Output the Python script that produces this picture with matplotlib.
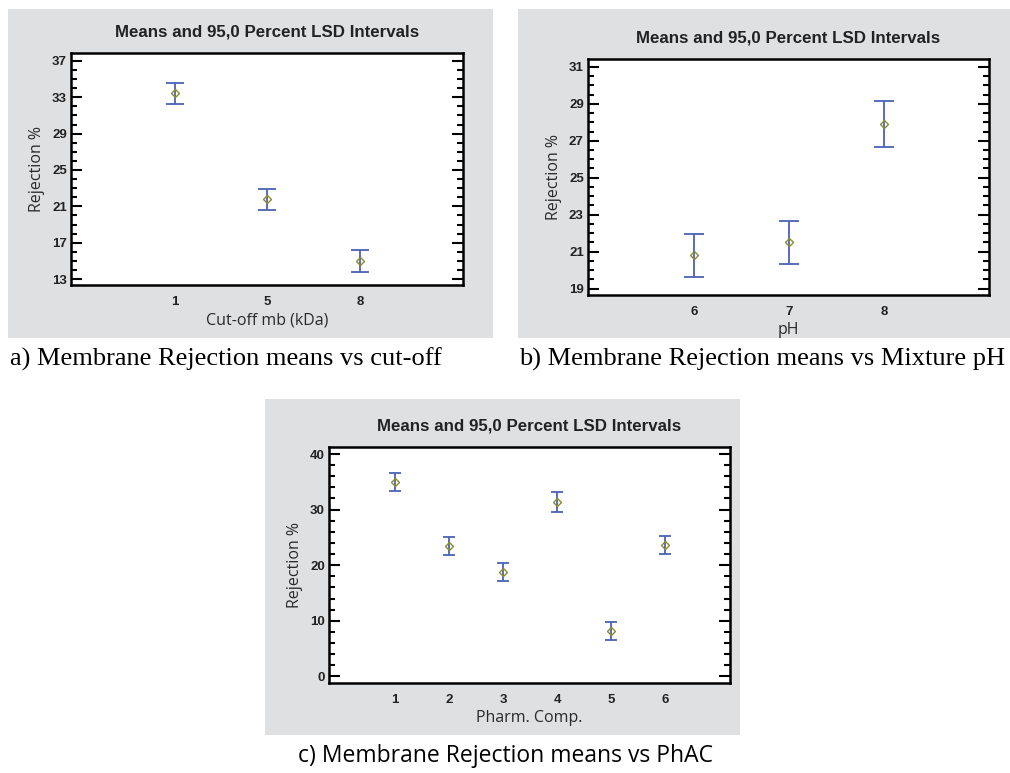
import matplotlib.pyplot as plt
from matplotlib.patches import Rectangle
from matplotlib.ticker import MultipleLocator

# a) cut-off
cutoff_labels = ['1', '5', '8']
cutoff_means = [33.45, 21.77, 14.95]
cutoff_half = [1.15, 1.17, 1.2]
cutoff_yticks = [13, 17, 21, 25, 29, 33, 37]

# b) pH
ph_labels = ['6', '7', '8']
ph_means = [20.81, 21.51, 27.9]
ph_half = [1.16, 1.17, 1.25]
ph_yticks = [19, 21, 23, 25, 27, 29, 31]

# c) pharm. compounds
comp_labels = ['1', '2', '3', '4', '5', '6']
comp_means = [34.96, 23.45, 18.77, 31.36, 8.16, 23.63]
comp_half = [1.62, 1.62, 1.62, 1.88, 1.62, 1.62]
comp_yticks = [0, 10, 20, 30, 40]

W, H = 1010, 773
fig = plt.figure(figsize=(W / 100, H / 100), dpi=100)
fig.patch.set_facecolor('white')

GRIS = '#dfe0e2'
AZUL = '#4a62b8'
OLIVA = '#8c8c2a'
SANS = 'Liberation Sans'


# caixa em pixels (x0, y0 topo, x1, y1 base) -> fração da figura
def caixa(x0, y0, x1, y1):
    return [x0 / W, 1 - y1 / H, (x1 - x0) / W, (y1 - y0) / H]


def fundo(x0, y0, x1, y1):
    fig.patches.append(Rectangle((x0 / W, 1 - y1 / H), (x1 - x0) / W, (y1 - y0) / H,
                                 transform=fig.transFigure, facecolor=GRIS,
                                 edgecolor='none', zorder=-5))


def painel(ret, labels, medias, meia, ylim, yticks, menor, xlim, xlabel, cap):
    ax = fig.add_axes(caixa(*ret))
    pos = list(range(len(labels)))
    ax.errorbar(pos, medias, yerr=meia, fmt='none', ecolor=AZUL, elinewidth=1.3,
                capsize=cap, capthick=1.3)
    ax.plot(pos, medias, 'D', markersize=4.5, markerfacecolor='none',
            markeredgecolor=OLIVA, markeredgewidth=1.0)
    ax.set_xlim(*xlim)
    ax.set_ylim(*ylim)
    ax.set_xticks(pos)
    ax.set_xticklabels(labels)
    ax.set_yticks(yticks)
    ax.yaxis.set_minor_locator(MultipleLocator(menor))
    ax.tick_params(axis='y', which='both', direction='in', left=True, right=True,
                   width=1.5)
    ax.tick_params(axis='y', which='major', length=8, pad=3)
    ax.tick_params(axis='y', which='minor', length=4)
    ax.tick_params(axis='x', length=0, pad=8)
    for lab in ax.get_xticklabels() + ax.get_yticklabels():
        lab.set_fontweight('bold')
        lab.set_fontsize(9.5)
        lab.set_family(SANS)
        lab.set_color('#222222')
    for s in ax.spines.values():
        s.set_linewidth(1.8)
    ax.set_title('Means and 95,0 Percent LSD Intervals', fontsize=12.2,
                 fontweight='bold', family=SANS, color='#222222', pad=12)
    ax.set_xlabel(xlabel, fontsize=11.5, family='Open Sans', color='#2a2a2a',
                  labelpad=3)
    ax.set_ylabel('Rejection %', fontsize=11.5, family='Open Sans', color='#2a2a2a',
                  labelpad=5)
    return ax


fundo(8, 9, 493, 338)
painel((71, 53, 463, 285), cutoff_labels, cutoff_means, cutoff_half,
       (12.34, 37.88), cutoff_yticks, 1, (-1.12, 3.11), 'Cut-off mb (kDa)', 6.8)

fundo(518, 9, 1010, 338)
painel((588, 59, 989, 295), ph_labels, ph_means, ph_half,
       (18.66, 31.42), ph_yticks, 0.5, (-1.12, 3.11), 'pH', 7.2)

fundo(265, 399, 740, 735)
painel((329, 447, 730, 683), comp_labels, comp_means, comp_half,
       (-1.2, 41.26), comp_yticks, 2, (-1.22, 6.2), 'Pharm. Comp.', 4.3)

fig.text(226 / W, 1 - 359 / H, 'a) Membrane Rejection means vs cut-off',
         family='Liberation Serif', fontsize=19, ha='center', va='center')
fig.text(762 / W, 1 - 359 / H, 'b) Membrane Rejection means vs Mixture pH',
         family='Liberation Serif', fontsize=19, ha='center', va='center')
fig.text(505 / W, 1 - 756 / H, 'c) Membrane Rejection means vs PhAC',
         family='Open Sans', fontsize=16.5, ha='center', va='center')

fig.savefig('out.png', dpi=100)
